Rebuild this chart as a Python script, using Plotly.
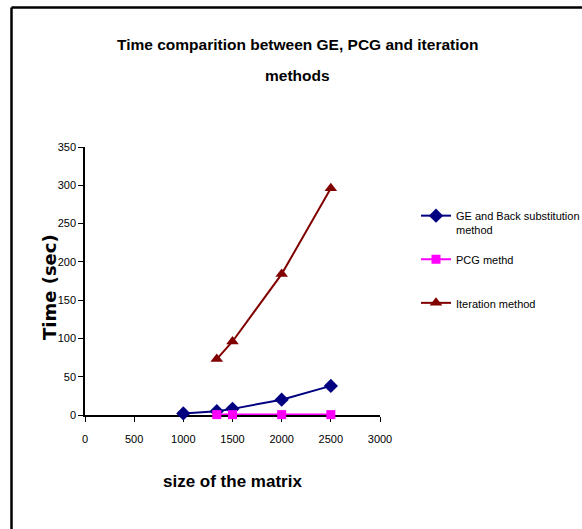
import plotly.graph_objects as go

sizes_ge = [1000, 1340, 1500, 2000, 2500]
time_ge = [2, 5, 8, 20, 38]
sizes_pcg = [1340, 1500, 2000, 2500]
time_pcg = [0.5, 0.5, 0.5, 0.5]
sizes_it = [1340, 1500, 2000, 2500]
time_it = [73, 96, 184, 296]

names = ["GE and Back substitution<br>method", "PCG methd<br> ", "Iteration method"]
colors = ["#000080", "#FF00FF", "#800000"]

NARROW = "Liberation Sans, Arial"
WIDE = "DejaVu Sans, Liberation Sans, Arial"

fig = go.Figure()
fig.add_trace(go.Scatter(x=sizes_ge, y=time_ge, name=names[0], mode="lines+markers",
                         line=dict(color=colors[0], width=2), cliponaxis=False,
                         marker=dict(symbol="diamond", size=11, color=colors[0]),
                         legendgroup="a"))
fig.add_trace(go.Scatter(x=sizes_pcg, y=time_pcg, name=names[1], mode="lines+markers",
                         line=dict(color=colors[1], width=2), cliponaxis=False,
                         marker=dict(symbol="square", size=9, color=colors[1]),
                         legendgroup="b"))
fig.add_trace(go.Scatter(x=sizes_it, y=time_it, name=names[2], mode="lines+markers",
                         line=dict(color=colors[2], width=2), cliponaxis=False,
                         marker=dict(symbol="triangle-up", size=11, color=colors[2]),
                         legendgroup="c"))

L, R, T, B = 85, 380, 147, 415
W, H = 582, 529
pw, ph = R - L, B - T

def px(x):
    return (x - L) / pw

def py(y):
    return (B - y) / ph

fig.update_layout(
    width=W, height=H,
    margin=dict(l=L, r=W - R, t=T, b=H - B, autoexpand=False),
    paper_bgcolor="white", plot_bgcolor="white",
    showlegend=True,
    legend=dict(x=px(416), y=py(202), xanchor="left", yanchor="top",
                font=dict(family=NARROW, size=11, color="black"),
                traceorder="grouped", tracegroupgap=12, valign="top",
                bgcolor="rgba(0,0,0,0)", itemwidth=30),
    xaxis=dict(range=[0, 3000], dtick=500, tick0=0, showgrid=False, zeroline=False,
               showline=True, linecolor="black", linewidth=1.5, layer="below traces",
               ticks="outside", ticklen=5, tickcolor="black", ticklabelstandoff=8,
               tickfont=dict(family=NARROW, size=11, color="black")),
    yaxis=dict(range=[0, 350], dtick=50, tick0=0, showgrid=False, zeroline=False,
               showline=True, linecolor="black", linewidth=1.5, layer="below traces",
               ticks="outside", ticklen=5, tickcolor="black",
               tickfont=dict(family=NARROW, size=11, color="black")),
)

fig.add_annotation(text="<b>Time comparition between GE, PCG and iteration</b>",
                   xref="paper", yref="paper", x=px(297), y=py(45),
                   showarrow=False, xanchor="center", yanchor="middle",
                   font=dict(family=NARROW, size=15.5, color="black"))
fig.add_annotation(text="<b>methods</b>",
                   xref="paper", yref="paper", x=px(297), y=py(76),
                   showarrow=False, xanchor="center", yanchor="middle",
                   font=dict(family=NARROW, size=15.5, color="black"))
fig.add_annotation(text="<b>size of the matrix</b>",
                   xref="paper", yref="paper", x=px(232), y=py(481),
                   showarrow=False, xanchor="center", yanchor="middle",
                   font=dict(family=NARROW, size=17, color="black"))
fig.add_annotation(text="<b>Time (sec)</b>",
                   xref="paper", yref="paper", x=px(49), y=py(287),
                   showarrow=False, xanchor="center", yanchor="middle", textangle=-90,
                   font=dict(family=WIDE, size=18, color="black"))

# outer frame (left and top edges visible)
fig.add_shape(type="line", xref="paper", yref="paper",
              x0=px(11.5), y0=py(7.5), x1=px(11.5), y1=py(540),
              line=dict(color="black", width=2.5))
fig.add_shape(type="line", xref="paper", yref="paper",
              x0=px(11.5), y0=py(7.5), x1=px(600), y1=py(7.5),
              line=dict(color="black", width=2.5))

fig.write_html("out.html")
